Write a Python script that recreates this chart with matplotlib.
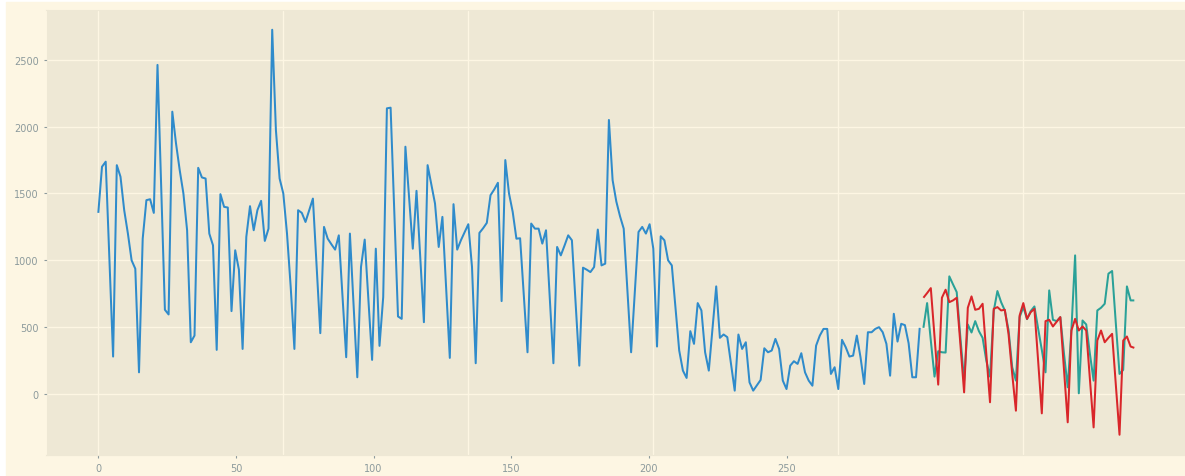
import matplotlib.pyplot as plt
from matplotlib.patches import Rectangle
import numpy as np

plt.style.use("Solarize_Light2")

# Training series (index 0..222)
train = [
    1355, 1700, 1738, 1000, 280, 1712, 1625, 1375, 1200, 1000,
    937, 162, 1162, 1450, 1457, 1355, 2462, 1546, 630, 595,
    2112, 1875, 1675, 1500, 1225, 387, 437, 1692, 1620, 1612,
    1200, 1112, 330, 1495, 1400, 1395, 620, 1075, 930, 337,
    1175, 1405, 1225, 1375, 1445, 1145, 1237, 2725, 1975, 1612,
    1500, 1200, 800, 337, 1375, 1355, 1287, 1375, 1462, 960,
    455, 1250, 1162, 1120, 1080, 1187, 730, 275, 1200, 660,
    125, 950, 1155, 700, 255, 1087, 360, 725, 2137, 2142,
    1360, 580, 562, 1850, 1470, 1087, 1520, 1030, 537, 1712,
    1570, 1425, 1100, 1325, 800, 270, 1420, 1080, 1150, 1210,
    1270, 950, 230, 1205, 1240, 1280, 1487, 1530, 1580, 695,
    1750, 1500, 1362, 1162, 1165, 740, 312, 1275, 1237, 1237,
    1125, 1225, 730, 230, 1100, 1037, 1110, 1187, 1150, 680,
    212, 945, 930, 912, 950, 1230, 962, 975, 2050, 1600,
    1440, 1330, 1237, 770, 312, 760, 1212, 1250, 1200, 1270,
    1087, 355, 1180, 1150, 1000, 962, 640, 325, 175, 120,
    470, 375, 680, 625, 312, 175, 490, 805, 420, 445,
    425, 225, 25, 445, 337, 387, 87, 25, 65, 105,
    342, 312, 325, 412, 337, 100, 37, 212, 245, 225,
    305, 162, 100, 62, 362, 437, 487, 487, 150, 200,
    37, 405, 350, 280, 287, 437, 275, 75, 462, 462,
    487, 500, 462, 375, 137, 600, 392, 525, 515, 380,
    125, 125, 495,
]

# Test period: observed values and model predictions (index 223..280)
actual = [
    495, 680, 400, 130, 320, 312, 310, 880, 820, 762,
    420, 100, 520, 460, 545, 470, 420, 250, 130, 620,
    770, 687, 625, 480, 200, 100, 575, 650, 560, 620,
    655, 490, 330, 162, 775, 555, 545, 575, 300, 50,
    480, 1037, 5, 550, 520, 300, 100, 625, 645, 675,
    900, 920, 530, 150, 180, 805, 700, 700,
]
predicted = [
    720, 755, 792, 430, 70, 720, 780, 687, 700, 720,
    370, 12, 645, 730, 630, 637, 675, 300, -62, 637,
    650, 625, 630, 450, 150, -125, 587, 680, 562, 612,
    637, 250, -145, 545, 555, 505, 540, 575, 180, -212,
    475, 562, 475, 505, 475, 110, -250, 400, 475, 387,
    420, 450, 70, -305, 400, 430, 355, 345,
]

x_ticks = [0, 50, 100, 150, 200, 250]
label_scale = 1.344  # unit ratio of the tick-label axis

train_x = np.arange(len(train))
test_x = np.arange(len(train), len(train) + len(actual))

fig = plt.figure(figsize=(11.85, 4.77), dpi=100, facecolor="white")
fig.patches.append(Rectangle((6 / 1185, 0), 1, 474 / 477, transform=fig.transFigure,
                             color="#fdf6e3", zorder=-1))
ax = fig.add_axes([46.5 / 1185, 21 / 477, 0.9617, 445.5 / 477])

ax.plot(train_x, train, color="#2f8bcb", lw=1.45)
ax.plot(test_x, actual, color="#2AA198", lw=1.45)
ax.plot(test_x, predicted, color="#d9262a", lw=1.45)

ax.set_xticks(x_ticks)
ax.tick_params(axis="x", labelbottom=False, length=0)
ax.tick_params(axis="y", labelsize=7, length=2, colors="#8c9a9c")

sec = ax.secondary_xaxis("bottom", functions=(lambda v: v * label_scale,
                                              lambda v: v / label_scale))
sec.set_xticks(x_ticks)
sec.tick_params(labelsize=7, length=2, colors="#8c9a9c")

fig.savefig("out.png", dpi=100, facecolor=fig.get_facecolor())
